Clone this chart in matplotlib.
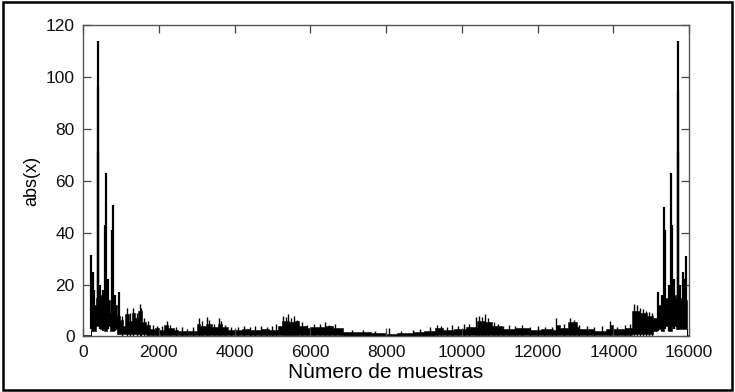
import matplotlib
matplotlib.use('Agg')
import matplotlib.pyplot as plt
from matplotlib.patches import Rectangle

plt.rcParams['font.family'] = ['Liberation Sans', 'DejaVu Sans']

# band of the spectrum: start sample of each step, top value, bottom value
band_x = [0, 200, 330, 450, 540, 640, 720, 830, 900, 980, 1060, 1100, 1200,
          1280, 1380, 1460, 1560, 1650, 1780, 1900, 2000, 2150, 2250, 2400,
          2500, 3000, 3100, 3250, 3400, 3550, 3680, 3830, 4200, 4400, 4700,
          4900, 5150, 5250, 5450, 5600, 5700, 5900, 6000, 6400, 6600, 6870,
          7300, 7600, 8000, 8300, 8700, 9000, 9300, 9500, 9800, 10100, 10400,
          10600, 10800, 11060, 11400, 11800, 12100, 12400, 12500, 12600,
          12800, 13040, 13100, 13500, 13800, 13900, 13980, 14300, 14500,
          14700, 14900, 15060, 15150, 15250, 15350, 15450, 15550, 15650,
          15780, 15940, 16000]
band_hi = [0.4, 12, 15, 16, 10, 14, 9, 12, 8, 6.4, 4, 8.5, 6,
           9, 7, 10, 5.5, 4.5, 3, 3.2, 2.6, 4.5, 3.2, 2.6,
           2.2, 5, 4, 5, 3.5, 5, 3.5, 2.4, 3, 2.6, 3,
           2.6, 4, 6, 5.5, 6, 4.2, 3.4, 3.6, 4, 3.4, 1.6,
           1.9, 1.4, 1.1, 1.4, 1.9, 2.2, 3.4, 2.6, 3, 3.8, 6,
           5.5, 4.2, 2.8, 3.2, 2.6, 3, 2.6, 4.5, 3.4,
           5.5, 3.8, 2.8, 2.2, 3, 4.5, 2.8, 3.4, 10,
           9, 8, 7, 12, 10, 15, 10, 16, 15,
           14, 0.4, 0.4]
band_lo = [0, 2, 4, 3, 2, 4, 2, 3, 1, 1, 0.8, 1, 1,
           1, 1, 1, 0.8, 0.6, 0.5, 0.5, 0.5, 0.5, 0.5, 0.4,
           0.4, 0.5, 0.5, 0.5, 0.5, 0.5, 0.5, 0.4, 0.4, 0.4, 0.4,
           0.4, 0.5, 0.5, 0.5, 0.5, 0.5, 0.4, 0.4, 0.4, 0.4, 0.3,
           0.3, 0.3, 0.2, 0.2, 0.3, 0.3, 0.4, 0.4, 0.4, 0.4, 0.5,
           0.5, 0.5, 0.4, 0.4, 0.4, 0.4, 0.4, 0.5, 0.4,
           0.5, 0.4, 0.4, 0.4, 0.4, 0.5, 0.4, 0.4, 1,
           1, 1, 2, 3, 2, 4, 2, 4, 3,
           3, 0, 0]

# tall peaks: sample index, abs value, foot of the peak
peak_x = [211, 230, 272, 300, 388, 395, 405, 440, 520, 585, 600, 660,
          770, 784, 850, 950,
          15170, 15280, 15340, 15355, 15470, 15530, 15545, 15610, 15700,
          15713, 15720, 15760, 15850, 15880, 15920]
peak_y = [31.4, 22, 25, 18, 114, 96, 71, 20, 18, 43, 63, 22,
          41, 50.6, 16, 17,
          17.3, 16, 50, 41, 20, 63, 43, 22, 71,
          95, 114, 20, 25, 22, 31]
peak_lo = [3, 3, 4, 4, 4, 4, 4, 3, 2, 4, 4, 3,
           3, 3, 2, 1,
           2, 2, 3, 3, 2, 4, 4, 3, 4,
           4, 4, 3, 4, 3, 3]

# small spikes on top of the noise floor
noise_x = [1020, 1150, 1240, 1330, 1420, 1500, 1540, 1620, 1720, 1850, 1950,
           2080, 2210, 2300, 2450, 2600, 2750, 2900,
           3050, 3150, 3280, 3330, 3450, 3600, 3650, 3750, 3900,
           4100, 4250, 4400, 4550, 4700, 4850, 4980,
           5100, 5280, 5350, 5420, 5500, 5580, 5650, 5780, 5900,
           6100, 6250, 6400, 6500, 6650, 6800,
           7100, 7400, 7700, 8080, 8400, 8700, 8900,
           9150, 9350, 9450, 9600, 9750, 9900,
           10050, 10200, 10380, 10450, 10520, 10600, 10700, 10850, 10950,
           11100, 11250, 11400, 11600, 11800, 12000, 12200, 12380, 12500,
           12700, 12850, 12950, 13100, 13300, 13500, 13700, 13900, 14100,
           14300, 14450, 14550, 14620, 14700, 14780, 14850, 14950, 15030]
noise_y = [8, 11, 9, 11, 9, 12.5, 11, 7, 6, 4.5, 4,
           4, 6, 4.5, 3.5, 3.5, 3, 3.5,
           7, 6, 7.5, 6.5, 5, 7, 6, 4.5, 3.5,
           3.5, 4, 3.5, 4, 4, 3.5, 4,
           5, 8, 7.5, 8.5, 7, 8, 6.5, 5.5, 4.5,
           5, 5, 5.5, 4.5, 5, 3,
           2.5, 2.5, 2, 3.3, 2, 2.5, 3,
           3.5, 4.5, 4, 3.5, 4.5, 4,
           5, 5, 7.5, 8, 7.5, 8.5, 7, 5.5, 5,
           4, 4.5, 4, 4.5, 3.5, 4, 3.5, 3.5, 7,
           5, 7, 6.5, 4.5, 4, 3.5, 4, 6, 3.5,
           4.5, 5, 12.5, 12, 11, 10.5, 10, 9.5, 9]

fig = plt.figure(figsize=(7.35, 3.92), dpi=100)
ax = fig.add_axes([0.113, 0.1416, 0.8245, 0.7946])

ax.fill_between(band_x, band_lo, band_hi, step='post', color='black',
                linewidth=0.4, edgecolor='black')
ax.vlines(noise_x, 0.3, noise_y, color='black', linewidth=1.0)
ax.vlines(peak_x, peak_lo, peak_y, color='black', linewidth=1.6)

ax.set_xlim(0, 16000)
ax.set_ylim(0, 120)
ax.set_xticks(range(0, 16001, 2000))
ax.set_yticks(range(0, 121, 20))
ax.tick_params(direction='in', length=5.5, width=0.9, top=True, right=True,
               labelsize=12.5, colors='#444444', labelcolor='#111111', pad=6)
for s in ax.spines.values():
    s.set_color('#555555')
    s.set_linewidth(1.0)

ax.set_xlabel('Nùmero de muestras', fontsize=15, labelpad=2)
ax.set_ylabel('abs(x)', fontsize=13, labelpad=4)

fig.patches.append(Rectangle((0.004, 0.005), 0.992, 0.99, transform=fig.transFigure,
                             fill=False, edgecolor='black', linewidth=1.8))

fig.savefig('out.png', dpi=100)
